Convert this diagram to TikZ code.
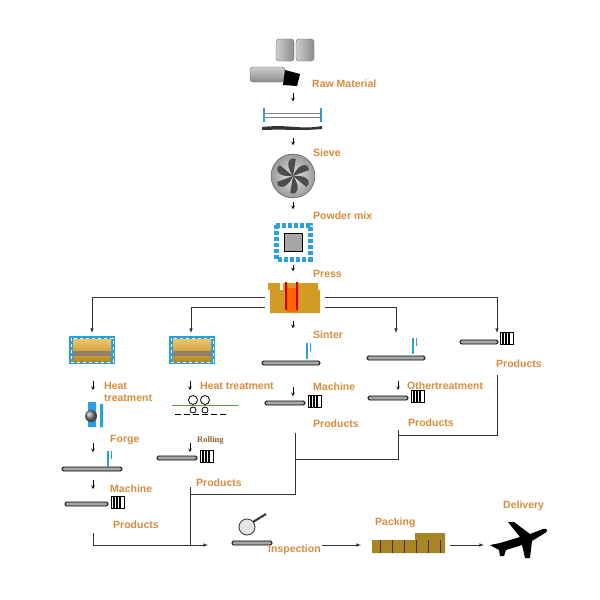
\documentclass[tikz,border=0pt]{standalone}
\usepackage{fontspec}
\setmainfont{Liberation Sans}
\usetikzlibrary{positioning}
\usetikzlibrary{arrows}
\definecolor{lblorange}{RGB}{214,140,62}
\definecolor{gold}{RGB}{232,172,40}
\definecolor{skyblue}{RGB}{45,160,220}
% rod with a small box of parts
\def\rodpic#1#2#3{\fill[gray!70,draw=black,line width=0.8pt,rounded corners=1.5pt] (#1,#2) rectangle ++(#3,4);}
\def\partbox#1#2{\draw[fill=white,line width=0.6pt] (#1,#2) rectangle ++(13,-12);
  \foreach \k in {3,6,9}{\draw[line width=1.2pt] (#1+\k,#2) -- ++(0,-12);}}
\def\toolpic#1#2{\draw[skyblue,line width=1.6pt] (#1,#2) -- ++(0,16); \draw[skyblue,line width=0.6pt] (#1+3,#2) -- ++(0,8);}
\def\furnace#1#2{\fill[skyblue] (#1-23,#2-14) rectangle ++(46,28);
  \draw[white,line width=1pt,dash pattern=on 3pt off 3pt] (#1-21,#2-12) rectangle ++(42,24);
  \shade[top color=gold!70!white,bottom color=gold!80!black] (#1-19,#2-11) rectangle ++(38,22);
  \fill[gray!70!brown] (#1-19,#2+1) rectangle ++(38,5);}

\begin{document}
\begin{tikzpicture}[x=1pt,y=-1pt,>=latex,font=\bfseries\fontsize{10.5}{11.5}\selectfont,
  lbl/.style={text=lblorange,anchor=west,inner sep=0pt,align=left},
  stepar/.style={->,>=stealth,semithick},
  flow/.style={->,semithick,draw=black!80},
  link/.style={semithick,draw=black!80}]
	\useasboundingbox[fill=white] (0,0) rectangle (600,600);

	% raw material
	\foreach \bx in {285,305}{\shade[left color=gray!40,right color=gray!90,draw=black!60,rounded corners=3pt] (\bx-9,39) rectangle (\bx+9,61);}
	\shade[top color=gray!40,bottom color=gray!90,draw=black!60,rounded corners=3pt] (250,67) rectangle (285,82);
	\fill[black] (285,70) -- (300,74) -- (297,86) -- (283,85) -- cycle;
	\node [lbl] at (312,84) (raw) {Raw Material};
	\node [inner sep=0pt] at (293,92) (raw1) {};
	\node [inner sep=0pt] at (293,102) (sieve0) {};
	\draw [stepar] (raw1) -- (sieve0);

	% sieve
	\draw[skyblue,line width=2pt] (264,108) -- (264,122) (321,108) -- (321,122);
	\draw[gray,thick] (264,113) -- (321,113) (264,117) -- (321,117);
	\fill[black!80] (262,127) .. controls (290,124) and (300,130) .. (322,126) -- (322,129) .. controls (300,131) and (290,129) .. (262,130) -- cycle;
	\node [inner sep=0pt] at (293,137) (sieve1) {};
	\node [inner sep=0pt] at (293,146) (fan0) {};
	\draw [stepar] (sieve1) -- (fan0);
	\node [lbl] at (313,153) (sieve) {Sieve};

	% mixer
	\shade[inner color=gray!20,outer color=gray!80,draw=black!70] (293,176) circle (22);
	\foreach \a in {0,60,...,300}{\fill[black!70,rotate around={\a:(293,176)}] (293,176) .. controls (300,160) and (310,165) .. (309,170) -- cycle;}
	\node [inner sep=0pt] at (293,201) (fan1) {};
	\node [inner sep=0pt] at (293,210) (mix0) {};
	\draw [stepar] (fan1) -- (mix0);
	\node [lbl] at (313,216) (mix) {Powder mix};

	% powder mix box
	\draw[skyblue,line width=5pt,dash pattern=on 4pt off 2pt] (276,225) rectangle (310,259);
	\fill[gray!70,draw=black] (284,233) rectangle (302,251);
	\node [inner sep=0pt] at (293,264) (mix1) {};
	\node [inner sep=0pt] at (293,272) (press0) {};
	\draw [stepar] (mix1) -- (press0);
	\node [lbl] at (313,274) (press) {Press};

	% press
	\fill[gold!90!black] (268,283) rectangle (280,290) (270,290) rectangle (320,313) (283,283) rectangle (318,290);
	\fill[orange!80!red] (287,288) rectangle (298,312);
	\fill[red!80!black] (285,282) rectangle (287,310) (296,282) rectangle (298,310);
	\coordinate (pressL1) at (265,297);
	\coordinate (pressL2) at (265,307);
	\coordinate (pressR1) at (325,297);
	\coordinate (pressR2) at (325,307);
	\coordinate (c1) at (92,333);
	\coordinate (c2) at (191,333);
	\coordinate (c4) at (396,333);
	\coordinate (c5) at (497,333);
	\draw [flow] (pressL1) -| (c1);
	\draw [flow] (pressL2) -| (c2);
	\draw [flow] (pressR2) -| (c4);
	\draw [flow] (pressR1) -| (c5);
	\node [inner sep=0pt] at (293,320) (press1) {};
	\node [inner sep=0pt] at (293,329) (sinter0) {};
	\draw [stepar] (press1) -- (sinter0);
	\node [lbl] at (313,335) (sinter) {Sinter};

	% second row icons
	\furnace{92}{350}
	\furnace{192}{350}
	\rodpic{262}{361}{58} \toolpic{307}{343}
	\rodpic{367}{356}{58} \toolpic{413}{338}
	\rodpic{460}{340}{38} \partbox{500}{344}
	\node [lbl] at (496,364) (prodE) {Products};

	% third row
	\draw [stepar] (93,381) -- (93,390);
	\node [lbl] at (104,392) (heatA) {Heat\\treatment};
	\draw [stepar] (190,381) -- (190,390);
	\node [lbl] at (200,386) (heatB) {Heat treatment};
	\draw [stepar] (293,387) -- (293,396);
	\node [lbl] at (313,387) (machC) {Machine};
	\draw [stepar] (398,381) -- (398,390);
	\node [lbl] at (407,386) (other) {Othertreatment};

	% forge hammer
	\fill[skyblue] (88,402) rectangle (96,427) (100,404) rectangle (103,427);
	\shade[ball color=gray] (91,416) circle (6);
	% rolling mill
	\foreach \rx in {193,205}{\draw[black,thick] (\rx,400) circle (4.5); \draw[black,thick] (\rx,410) circle (3);}
	\draw[red!70,thin] (172,405) -- (238,405);
	\draw[black,thick,dash pattern=on 6pt off 3pt] (175,414) -- (228,414);
	\rodpic{265}{401}{40} \partbox{308}{407}
	\rodpic{368}{396}{40} \partbox{411}{402}
	\node [lbl] at (313,424) (prodC) {Products};
	\node [lbl] at (408,423) (prodD) {Products};

	% fourth row
	\draw [stepar] (93,443) -- (93,452);
	\node [lbl] at (110,440) (forge) {Forge};
	\draw [stepar] (190,443) -- (190,452);
	\node [lbl,font=\fontspec{Liberation Serif}\bfseries\fontsize{8.5}{9}\selectfont,text=lblorange!70!black] at (197,440) (rolling) {Rolling};
	\rodpic{62}{467}{60} \toolpic{108}{451}
	\rodpic{157}{456}{40} \partbox{200}{462}
	\node [lbl] at (196,483) (prodB) {Products};
	\draw [stepar] (93,480) -- (93,489);
	\node [lbl] at (110,489) (machA) {Machine};
	\rodpic{65}{502}{43} \partbox{111}{508}
	\node [lbl] at (113,525) (prodA) {Products};

	% collecting lines
	\coordinate (jE) at (497,375);
	\coordinate (jD) at (398,430);
	\coordinate (jC) at (295,433);
	\coordinate (jB) at (190,487);
	\coordinate (jA) at (93,533);
	\draw [link] (jE) |- (398,435);
	\draw [link] (jD) |- (295,459);
	\draw [link] (jC) |- (190,494);
	\draw [link] (jB) -- (190,545);

	% last row
	\draw[black!80,thick,fill=gray!20] (247,527) circle (8);
	\draw[black!80,line width=2pt] (253,522) -- (266,514);
	\rodpic{232}{541}{40}
	\node [lbl] at (268,550) (insp) {Inspection};
	\coordinate (inspW) at (208,545);
	\draw [flow] (jA) |- (inspW);
	\coordinate (inspE) at (322,545);
	\coordinate (packW) at (361,545);
	\draw [flow] (inspE) -- (packW);
	\node [lbl] at (375,523) (pack) {Packing};
	\fill[brown!70!yellow!80!black] (372,540) rectangle (445,553) (415,533) rectangle (445,540);
	\foreach \px in {380,392,...,440}{\draw[brown!40!black] (\px,540) -- (\px,553);}
	\coordinate (packE) at (450,545);
	\coordinate (planeW) at (484,545);
	\draw [flow] (packE) -- (planeW);
	\node [lbl] at (503,506) (deliv) {Delivery};
	% airplane
	\fill[black] (490,545) -- (500,543) -- (520,537) -- (508,522) -- (514,522) -- (530,534) -- (543,529) .. controls (548,528) and (548,531) .. (545,533) -- (532,541) -- (530,558) -- (525,558) -- (522,545) -- (506,550) -- (504,556) -- (500,556) -- (499,550) -- cycle;
\end{tikzpicture}
\end{document}
